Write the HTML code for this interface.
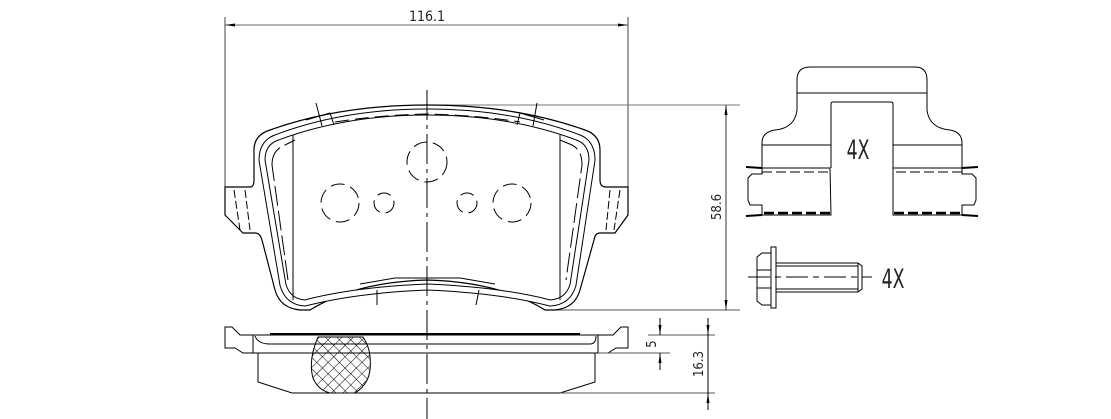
<!DOCTYPE html>
<html><head><style>
html,body{margin:0;padding:0;background:#fff;}
svg{display:block;}
text{font-family:"DejaVu Sans Condensed","Liberation Sans",sans-serif;fill:#222;}
</style></head><body>
<svg width="1111" height="419" viewBox="0 0 1111 419" xmlns="http://www.w3.org/2000/svg">
<defs>
<pattern id="hx" width="8" height="8" patternUnits="userSpaceOnUse" patternTransform="rotate(45)">
<path d="M0 0 V8 M0 0 H8" stroke="#000" stroke-width="1"/>
</pattern>
<marker id="ar" markerWidth="10" markerHeight="6" refX="10" refY="3" orient="auto-start-reverse" markerUnits="userSpaceOnUse">
<path d="M0 1.5 L10 3 L0 4.5Z" fill="#000"/>
</marker>
</defs>
<g fill="none" stroke="#000" stroke-width="1">
<line x1="225" y1="17" x2="225" y2="187" stroke="#444"/>
<line x1="628" y1="17" x2="628" y2="187" stroke="#444"/>
<line x1="225" y1="25" x2="628" y2="25" stroke="#666" marker-start="url(#ar)" marker-end="url(#ar)"/>
<line x1="427" y1="105" x2="740" y2="105" stroke="#777"/>
<line x1="545" y1="310" x2="740" y2="310" stroke="#555"/>
<line x1="726" y1="105" x2="726" y2="310" stroke="#333" marker-start="url(#ar)" marker-end="url(#ar)"/>

<path d="M225,187 L250,187 Q254,187 254,180 L254,150 Q254,135 270,130 Q340,105 427,105 Q515,105 585,130 Q600,135 600,150 L600,180 Q600,187 606,187 L628,187 L628,215 L615,233 L600,233 Q595,233 594,240 L580,290 Q575,308 555,310 L545,310 Q500,282 427,280 Q355,282 310,310 L300,310 Q280,308 275,290 L262,240 Q260,233 255,233 L243,233 L225,215 Z" stroke-width="1.2"/>
<path d="M262,160 Q262,142 278,137 Q345,112 427,112 Q510,112 577,137 Q592,142 592,160 L573,285 Q568,302 550,303 Q500,290 427,287 Q355,290 305,303 Q288,302 283,285 Z" stroke-width="7"/>
<path d="M262,160 Q262,142 278,137 Q345,112 427,112 Q510,112 577,137 Q592,142 592,160 L573,285 Q568,302 550,303 Q500,290 427,287 Q355,290 305,303 Q288,302 283,285 Z" stroke="#fff" stroke-width="5"/>
<path d="M272,165 Q272,150 285,145 L295,140 M560,140 L572,145 Q582,150 582,165 L566,280 M288,280 L272,165" stroke-dasharray="20 5"/>
<path d="M335,122 Q380,115 427,114 Q475,115 520,122" stroke-dasharray="14 6"/>
<line x1="293" y1="135" x2="293" y2="300"/>
<line x1="560" y1="135" x2="560" y2="300"/>
<path d="M306,120 L330,113 L334,125 M520,113 L544,120 M520,113 L517,125"/>
<path d="M316,103 L322,126 M537,103 L533,126 M377,290 L377,305 M479,290 L476,305"/>
<path d="M360,284 L395,278 L460,278 L495,284"/>
<path d="M234,190 L240,230 M245,190 L250,230 M620,190 L614,230 M610,190 L606,230" stroke-dasharray="8 3"/>
<g stroke-dasharray="14 6">
<circle cx="427" cy="162" r="20"/>
<circle cx="340" cy="203" r="19"/>
<circle cx="384" cy="203" r="10"/>
<circle cx="467" cy="203" r="10"/>
<circle cx="512" cy="203" r="19"/>
</g>
<line x1="427" y1="90" x2="427" y2="419" stroke-dasharray="30 5 4 5"/>

<path d="M225,327 L232,327 L240,335 L253,335 L253,353 L243,353 L235,348 L225,348 Z"/>
<path d="M628,327 L621,327 L613,335 L598,335 L598,353 L608,353 L616,348 L628,348 Z"/>
<line x1="253" y1="335" x2="598" y2="335"/>
<line x1="253" y1="353" x2="598" y2="353"/>
<path d="M255,336 Q258,344 270,344 L590,344 Q596,344 596,336"/>
<line x1="270" y1="334" x2="580" y2="334" stroke-width="2"/>
<path d="M258,353 L258,382 L292,393 L560,393 L595,382 L595,353"/>
<path d="M318,337 Q308,360 313,378 Q318,390 330,393 L355,393 Q368,385 370,370 Q372,350 363,337 Z" fill="url(#hx)"/>
<line x1="648" y1="335" x2="715" y2="335" stroke="#555"/>
<line x1="598" y1="353" x2="670" y2="353" stroke="#555"/>
<line x1="560" y1="393" x2="715" y2="393" stroke="#555"/>
<line x1="660" y1="318" x2="660" y2="335" marker-end="url(#ar)"/>
<line x1="660" y1="370" x2="660" y2="353" marker-end="url(#ar)"/>
<line x1="708" y1="318" x2="708" y2="335" marker-end="url(#ar)"/>
<line x1="708" y1="410" x2="708" y2="393" marker-end="url(#ar)"/>
<line x1="708" y1="335" x2="708" y2="393"/>

<path d="M762,168 L762,143 Q762,132 775,130 Q795,128 797,110 L797,80 Q797,67 810,67 L915,67 Q927,67 927,80 L927,110 Q929,128 950,130 Q962,132 962,143 L962,168"/>
<line x1="797" y1="93" x2="927" y2="93"/>
<path d="M831,168 L831,104 Q831,102 833,102 L891,102 Q893,102 893,104 L893,168"/>
<line x1="762" y1="145" x2="831" y2="145"/>
<line x1="893" y1="145" x2="962" y2="145"/>
<path d="M762,168 L830,168 L831,215 L762,215 L762,205 L750,205 L748,200 L748,178 L752,174 L762,174 Z"/>
<path d="M962,168 L893,168 L893,215 L962,215 L962,205 L974,205 L976,200 L976,178 L972,174 L962,174 Z"/>
<line x1="762" y1="172" x2="828" y2="172" stroke-dasharray="10 4"/>
<line x1="896" y1="172" x2="962" y2="172" stroke-dasharray="10 4"/>
<line x1="764" y1="213" x2="830" y2="213" stroke-width="2.5" stroke-dasharray="10 4"/>
<line x1="894" y1="213" x2="960" y2="213" stroke-width="2.5" stroke-dasharray="10 4"/>
<path d="M746,167 L762,168 M746,216 L762,215 M978,167 L962,168 M978,216 L962,215" stroke-width="2"/>
<path d="M757,257 L762,253 L771,253 L771,305 L762,305 L757,301 Z"/>
<line x1="757" y1="270" x2="771" y2="270"/><line x1="757" y1="288" x2="771" y2="288"/>
<rect x="771" y="247" width="5" height="61"/>
<path d="M776,263 L858,263 L862,266 L862,289 L858,292 L776,292 Z"/>
<line x1="776" y1="266" x2="858" y2="266"/><line x1="776" y1="289" x2="858" y2="289"/>
<line x1="858" y1="263" x2="858" y2="292"/>
<line x1="748" y1="277" x2="872" y2="277" stroke-dasharray="22 5 6 5"/>
</g>
<text x="427" y="21" font-size="14" text-anchor="middle">116.1</text>
<text transform="translate(721,207) rotate(-90)" font-size="13" text-anchor="middle">58.6</text>
<text transform="translate(656,344) rotate(-90)" font-size="13" text-anchor="middle">5</text>
<text transform="translate(703,364) rotate(-90)" font-size="13" text-anchor="middle">16.3</text>
<text transform="translate(858,159) scale(0.8,1.1)" font-size="24" text-anchor="middle">4X</text>
<text transform="translate(893,288) scale(0.8,1.1)" font-size="24" text-anchor="middle">4X</text>
</svg>
</body></html>
